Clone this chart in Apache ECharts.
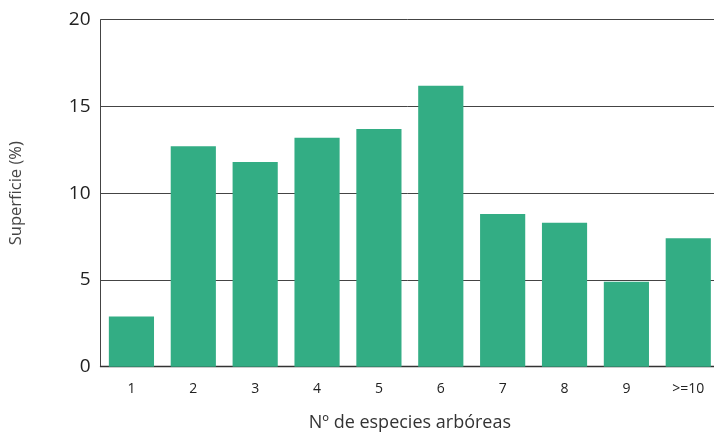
<!DOCTYPE html>
<html>
<head>
<meta charset="utf-8">
<script src="https://cdn.jsdelivr.net/npm/echarts@6/dist/echarts.min.js"></script>
<style>
  html, body { margin: 0; padding: 0; background: #fff; }
  #chart { width: 714px; height: 433px; }
</style>
</head>
<body>
<div id="chart"></div>
<script>
// number of tree species per plot
const categories = ['1', '2', '3', '4', '5', '6', '7', '8', '9', '>=10']
// share of surface (%)
const superficie = [2.9, 12.7, 11.8, 13.2, 13.7, 16.2, 8.8, 8.3, 4.9, 7.4]
const yTicks = { min: 0, max: 20, interval: 5 }

const font = '"Open Sans", "DejaVu Sans", sans-serif'
const chart = echarts.init(document.getElementById('chart'), null, { renderer: 'canvas' })

chart.setOption({
  animation: false,
  backgroundColor: '#fff',
  grid: {
    left: 100.5,
    top: 19.7,
    bottom: 66.3,
    right: -5.2,
    containLabel: false,
    outerBoundsMode: 'none'
  },
  xAxis: {
    type: 'category',
    data: categories,
    name: 'Nº de especies arbóreas',
    nameLocation: 'middle',
    nameGap: 47,
    nameTextStyle: { fontFamily: font, fontSize: 18, color: '#333' },
    axisLine: { lineStyle: { color: '#333', width: 1.3 } },
    axisTick: { inside: true, length: 8, lineStyle: { color: '#333', width: 1 } },
    axisLabel: { fontFamily: font, fontSize: 14, color: '#222', margin: 15 }
  },
  yAxis: {
    type: 'value',
    min: yTicks.min,
    max: yTicks.max,
    interval: yTicks.interval,
    name: 'Superficie (%)',
    nameLocation: 'middle',
    nameGap: 76,
    nameTextStyle: { fontFamily: font, fontSize: 16.5, color: '#444' },
    axisLine: { show: true, lineStyle: { color: '#444', width: 1 } },
    axisTick: { show: false },
    axisLabel: { fontFamily: font, fontSize: 19, color: '#222', margin: 10 },
    splitLine: { lineStyle: { color: '#444', width: 1 } }
  },
  series: [{
    type: 'bar',
    data: superficie,
    barCategoryGap: '27%',
    itemStyle: { color: '#33ad84' }
  }]
})
</script>
</body>
</html>
